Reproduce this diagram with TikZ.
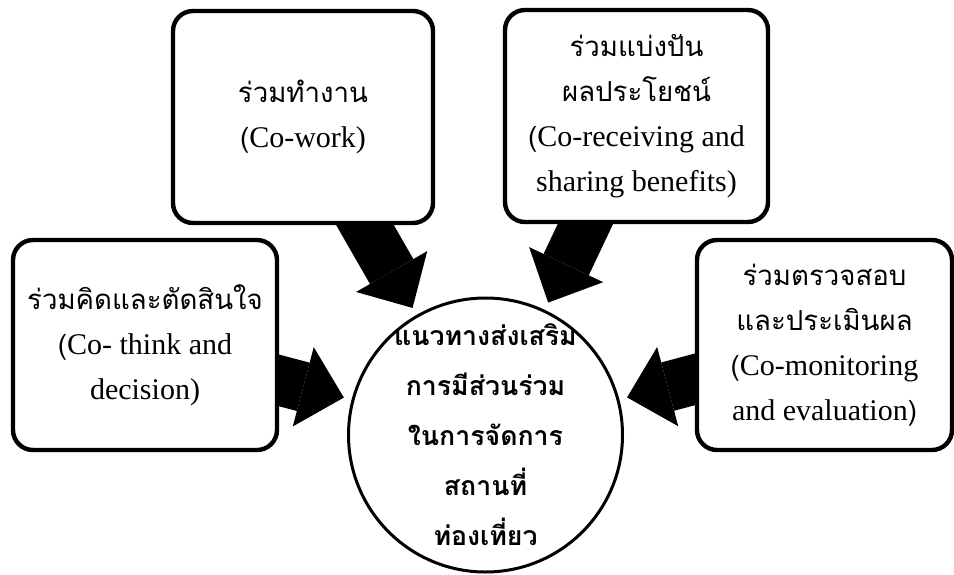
\documentclass[tikz,border=0pt]{standalone}
\usepackage{fontspec}
\setmainfont{Liberation Serif}
\newfontfamily\thaifont[Script=Thai, Scale=0.92]{Loma}
\usetikzlibrary{arrows.meta, shapes, positioning, backgrounds}

\begin{document}
\begin{tikzpicture}[x=0.5pt,y=-0.5pt,
		box/.style={draw, line width=2.2pt, rounded corners=10pt, fill=white, align=center, inner sep=0pt,
			font=\fontsize{15}{22.5}\selectfont},
		hub/.style={draw, circle, line width=1.5pt, minimum size=137pt, inner sep=0pt},
		hubtext/.style={align=center, font=\thaifont\bfseries\fontsize{14.5}{25}\selectfont},
		bigarrow/.style={line width=25pt, -{Triangle[length=21pt,width=41pt,line width=0pt]},
			shorten <=-15pt, shorten >=4pt}]
	\useasboundingbox (0,0) rectangle (954,574);
	
	\node[hub] (hub) at (485.5,435) {};
	\node[hubtext] (hubtxt) at (hub) {แนวทางส่งเสริม\\การมีส่วนร่วม\\ในการจัดการ\\สถานที่\\ท่องเที่ยว};
	
	\node[box, minimum width=130pt, minimum height=106pt] (work) at (303,117)
		{{\thaifont ร่วมทำงาน}\\{\thaifont(}Co-work)};
	\node[box, minimum width=131.5pt, minimum height=106pt] (share) at (636.5,116)
		{{\thaifont ร่วมแบ่งปัน}\\{\thaifont ผลประโยชน์}\\{\thaifont(}Co-receiving and\\sharing benefits)};
	\node[box, minimum width=132pt, minimum height=105pt] (think) at (145,345)
		{{\thaifont ร่วมคิดและตัดสินใจ}\\{\thaifont(}Co- think and\\decision)};
	\node[box, minimum width=127.5pt, minimum height=105pt] (check) at (824.5,345)
		{{\thaifont ร่วมตรวจสอบ}\\{\thaifont และประเมินผล}\\{\thaifont(}Co-monitoring\\and evaluation{\thaifont)}};
	
	\begin{scope}[on background layer]
		\path[bigarrow] (work) edge (hub)
		(share) edge (hub)
		(think) edge (hub)
		(check) edge (hub);
	\end{scope}
\end{tikzpicture}
\end{document}
